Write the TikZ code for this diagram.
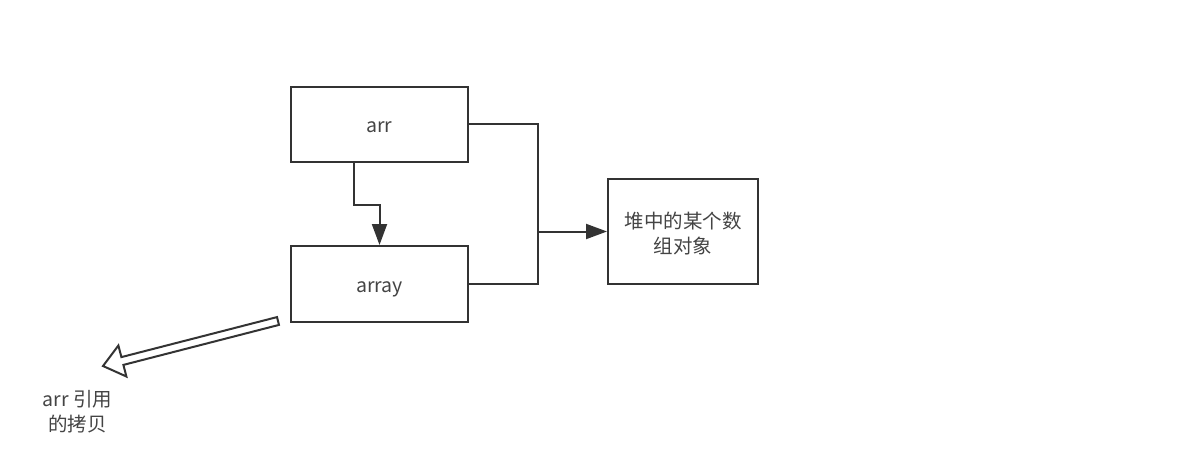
\documentclass[tikz,border=0pt]{standalone}
\usepackage{fontspec}
\usepackage{xcolor}
\setmainfont{Noto Sans CJK SC}
\usetikzlibrary{arrows.meta}
\definecolor{inkgray}{HTML}{333333}
\definecolor{textgray}{HTML}{444444}

\tikzset{
  box/.style={draw=inkgray, line width=2pt, fill=white, text=textgray, inner sep=0pt,
    minimum width=177, minimum height=75, align=center,
    text height=21pt, text depth=4pt,
    font=\fontsize{19.5}{25}\selectfont},
  link/.style={draw=inkgray, line width=2pt},
  tip/.style={-{Triangle[length=21pt,width=15pt]}}
}

\begin{document}
\begin{tikzpicture}[x=1pt,y=-1pt]
\useasboundingbox (0,0) rectangle (1193,465);
\node[box] (arr) at (379.5,124.5) {arr};
\node[box, minimum height=76] (array) at (379.5,284) {array};
\node[box, minimum width=150, minimum height=105, text height=46pt, text depth=2pt] (heap) at (683,231.5) {堆中的某个数\\组对象};
\coordinate (join) at (538,231.5);
\draw[link,tip] ([xshift=-25.5]arr.south) -- ++(0,42) -| (array.north);
\draw[link] (arr.east) -| (join) |- (array.east);
\draw[link,tip] (join) -- (heap.west);
% hollow arrow for the copy
\draw[inkgray, line width=2pt, line join=miter, fill=white]
  (277,317.1) -- (121.4,357.1) -- (118.4,345.5) -- (103,366)
  -- (126.4,376.5) -- (123.4,364.9) -- (279,324.9) -- cycle;
\node[text=textgray, align=center, font=\fontsize{19.5}{25}\selectfont] (copy) at (77.5,412) {arr 引用\\的拷贝};
\end{tikzpicture}
\end{document}
